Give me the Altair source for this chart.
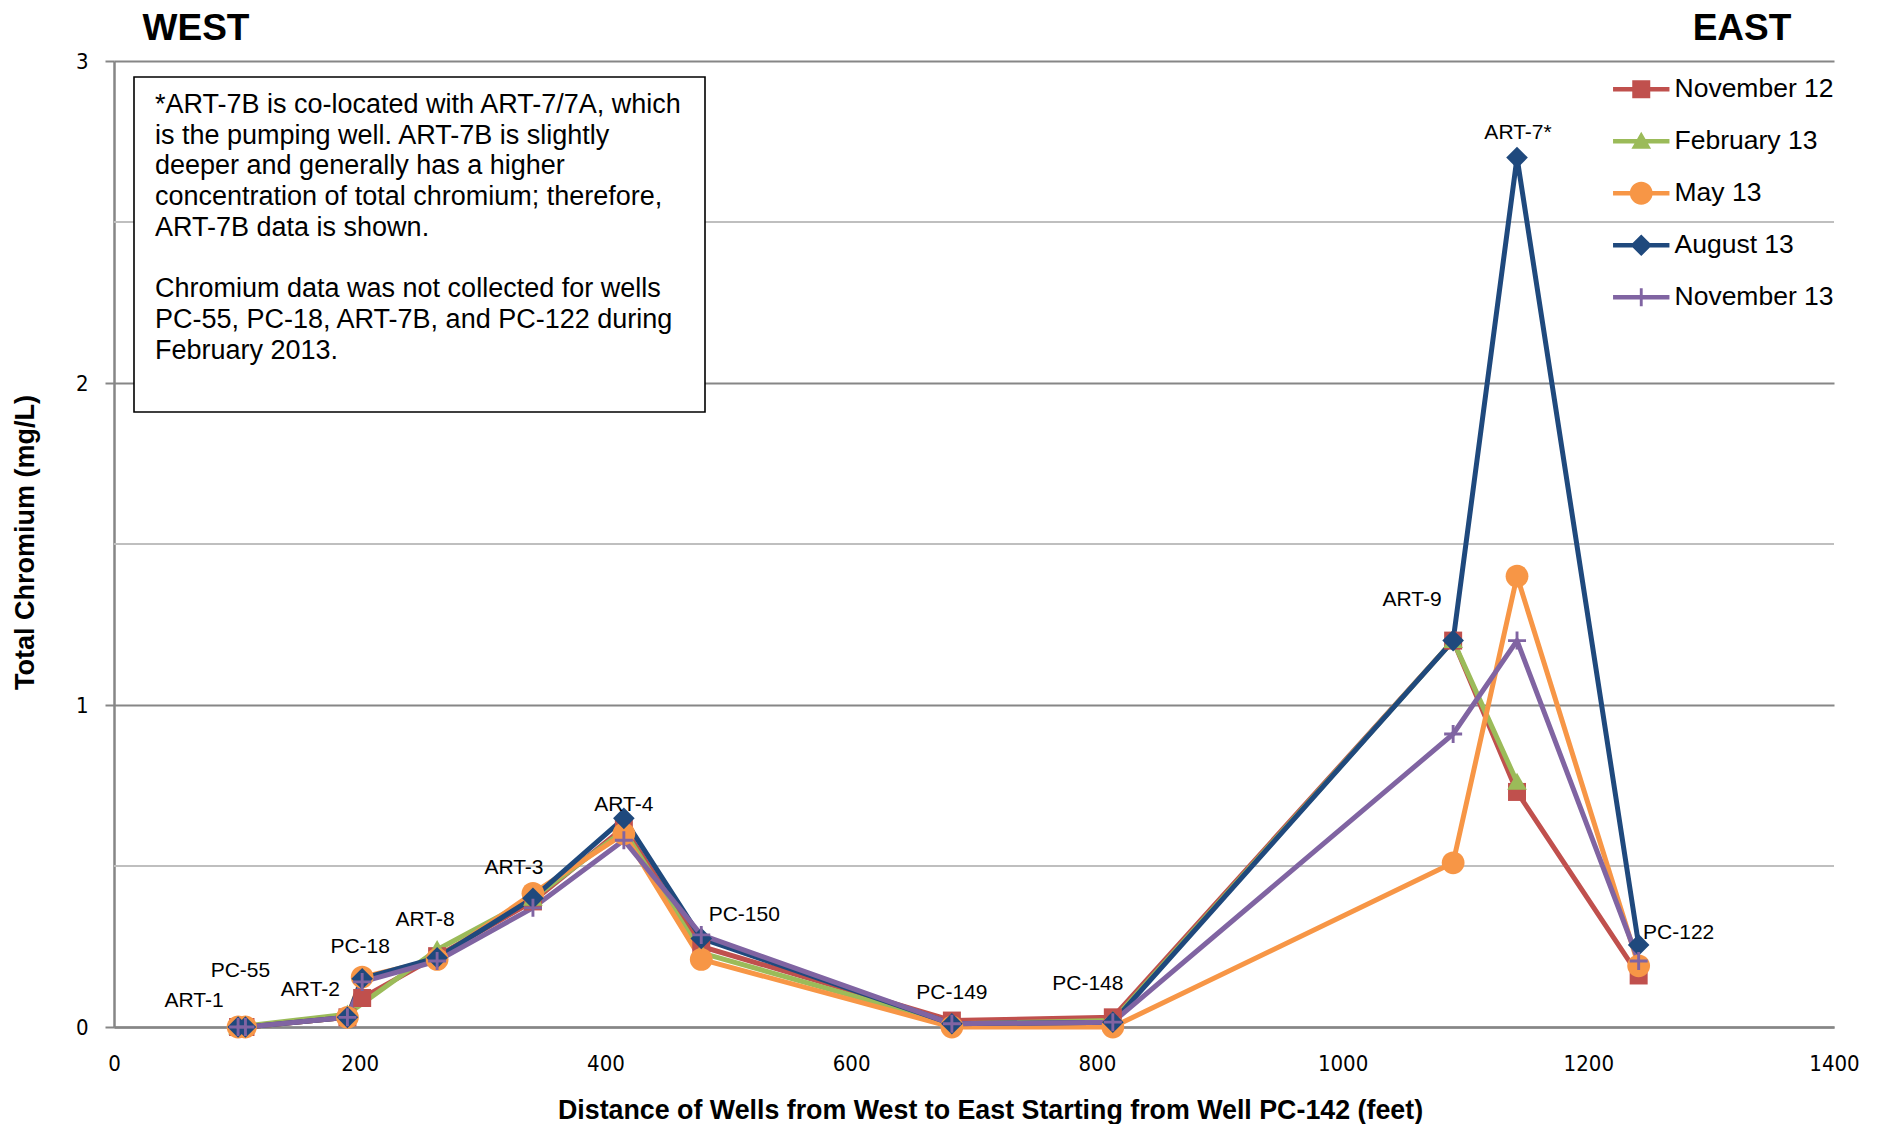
import altair as alt
import pandas as pd

# ---------------- data ----------------
SERIES = ["November 12", "February 13", "May 13", "August 13", "November 13"]
COLORS = ["#C0504D", "#9BBB59", "#F79646", "#1F497D", "#8064A2"]

WELLS = ["ART-1", "PC-55", "ART-2", "PC-18", "ART-8", "ART-3", "ART-4",
         "PC-150", "PC-149", "PC-148", "ART-9", "ART-7*", "PC-122"]
DISTANCE_FT = [101, 107, 190, 202, 263, 341, 415, 478, 682, 813, 1090, 1142, 1241]

NOV_12 = [0.0, 0.0, 0.03, 0.09, 0.22, 0.39, 0.62, 0.25, 0.02, 0.03, 1.20, 0.73, 0.16]
FEB_13 = [0.0, None, 0.04, None, 0.24, 0.40, 0.61, 0.23, 0.01, 0.02, 1.20, 0.76, None]
MAY_13 = [0.0, 0.0, 0.03, 0.155, 0.21, 0.415, 0.60, 0.21, 0.0, 0.0, 0.51, 1.40, 0.19]
AUG_13 = [0.0, 0.0, 0.03, 0.15, 0.215, 0.40, 0.648, 0.275, 0.01, 0.015, 1.20, 2.70, 0.255]
NOV_13 = [0.0, 0.0, 0.03, 0.14, 0.205, 0.37, 0.58, 0.286, 0.01, 0.015, 0.91, 1.20, 0.205]

X_TICKS = [0, 200, 400, 600, 800, 1000, 1200, 1400]
Y_TICKS = [0, 1, 2, 3]
Y_MINOR = [0.5, 1.5, 2.5]

NOTE_PARA_1 = [
    "*ART-7B is co-located with ART-7/7A, which",
    "is the pumping well. ART-7B is slightly",
    "deeper and generally has a higher",
    "concentration of total chromium; therefore,",
    "ART-7B data is shown.",
]
NOTE_PARA_2 = [
    "Chromium data was not collected for wells",
    "PC-55, PC-18, ART-7B, and PC-122 during",
    "February 2013.",
]
WEST_TEXT = "WEST"
EAST_TEXT = "EAST"
X_TITLE = "Distance of Wells from West to East Starting from Well PC-142 (feet)"
Y_TITLE = "Total Chromium (mg/L)"

# ---------------- styling (not data) ----------------
W, H = 1720, 966
FONT = "Liberation Sans"
NARROW = "Liberation Sans Narrow, DejaVu Sans Condensed, Liberation Sans"
NOTE_LH = 30.7
# label pixel offsets from each well's highest point
LABEL_DX = [-44, -5, -37, -2, -12, -19, 0, 43, 0, -25, -41, 1, 40]
LABEL_DY = [-26, -56, -24, -30, -30, -25, -13, -20, -28, -33, -41, -25, -12]

PLOT_PATHS = [
    "M-0.75,-0.75H0.75V0.75H-0.75Z",
    "M0,-0.8L0.82,0.62L-0.82,0.62Z",
    "M-0.95,0A0.95,0.95 0 1,1 0.95,0A0.95,0.95 0 1,1 -0.95,0Z",
    "M0,-0.9L0.9,0L0,0.9L-0.9,0Z",
    "M-0.75,-0.12H0.75V0.12H-0.75Z M-0.12,-0.75H0.12V0.75H-0.12Z",
]
LINE_SEG = "M-2.35,-0.19H2.35V0.19H-2.35Z "
LEGEND_PATHS = [LINE_SEG + p for p in PLOT_PATHS]

# ---------------- tables ----------------
rows = []
for s, vals in zip(SERIES, [NOV_12, FEB_13, MAY_13, AUG_13, NOV_13]):
    for w, d, v in zip(WELLS, DISTANCE_FT, vals):
        if v is not None:
            rows.append({"series": s, "well": w, "distance": d, "value": v})
df = pd.DataFrame(rows)

lab = df.groupby(["well", "distance"], as_index=False)["value"].max()
minor_df = pd.DataFrame({"y": Y_MINOR})

x_scale = alt.Scale(domain=[0, 1400], nice=False, zero=True)
y_scale = alt.Scale(domain=[0, 3], nice=False)
color_scale = alt.Scale(domain=SERIES, range=COLORS)

x_axis = alt.Axis(
    values=X_TICKS, format="d", grid=False, ticks=False, tickSize=0,
    labelFlush=False, labelOverlap=False,
    domainColor="#868686", domainWidth=2.5,
    labelFont=NARROW, labelFontSize=22, labelColor="black",
    labelPadding=36, labelBaseline="middle",
    title=X_TITLE, titleFont=FONT, titleFontSize=26.8, titleFontWeight="bold",
    titleColor="black", titleX=876, titleY=91, titleAlign="center",
    titleBaseline="alphabetic", titleAnchor="start",
)
y_axis = alt.Axis(
    values=Y_TICKS, format="d", grid=True, gridColor="#868686", gridWidth=2,
    labelFlush=False, labelOverlap=False,
    domainColor="#868686", domainWidth=2.5,
    ticks=True, tickSize=9, tickColor="#868686", tickWidth=2,
    labelFont=NARROW, labelFontSize=22, labelColor="black", labelPadding=17,
    title=Y_TITLE, titleFont=FONT, titleFontSize=27, titleFontWeight="bold",
    titleColor="black", titleAngle=270, titleX=-81, titleY=481,
    titleAlign="center", titleBaseline="alphabetic", titleAnchor="start",
)

base_x = alt.X("distance:Q", scale=x_scale, axis=x_axis)
base_y = alt.Y("value:Q", scale=y_scale, axis=y_axis)

minor = alt.Chart(minor_df).mark_rule(color="#BFBFBF", strokeWidth=2).encode(
    y=alt.Y("y:Q", scale=y_scale, axis=y_axis)
)

one = alt.Chart(minor_df).transform_filter("datum.y == 0.5")

note_box = one.mark_rect(fill="white", stroke="black", strokeWidth=1.6).encode(
    x=alt.value(20), x2=alt.value(591), y=alt.value(16), y2=alt.value(351)
)

note_style = dict(align="left", baseline="alphabetic", font=FONT, fontSize=27,
                  lineHeight=NOTE_LH, color="black")
note_text_1 = one.mark_text(**note_style).encode(
    x=alt.value(41), y=alt.value(52), text=alt.value(NOTE_PARA_1))
note_text_2 = one.mark_text(**note_style).encode(
    x=alt.value(41), y=alt.value(52 + 6 * NOTE_LH), text=alt.value(NOTE_PARA_2))

lines = alt.Chart(df).mark_line(strokeWidth=5, strokeJoin="round").encode(
    x=base_x, y=base_y,
    color=alt.Color("series:N", scale=color_scale, legend=None),
    detail="series:N",
)

points = alt.Chart(df).mark_point(filled=True, opacity=1, size=576, strokeWidth=0).encode(
    x=base_x, y=base_y,
    color=alt.Color("series:N", scale=color_scale, legend=None),
    shape=alt.Shape("series:N", scale=alt.Scale(domain=SERIES, range=PLOT_PATHS), legend=None),
)

label_layers = []
for w, dx, dy in zip(WELLS, LABEL_DX, LABEL_DY):
    label_layers.append(
        alt.Chart(lab).transform_filter(alt.datum.well == w).mark_text(
            font=FONT, fontSize=21, color="black", dx=dx, dy=dy,
            align="center", baseline="middle"
        ).encode(x=base_x, y=base_y, text="well:N")
    )

sides = one.mark_text(
    font=FONT, fontSize=37, fontWeight="bold", color="black",
    align="center", baseline="alphabetic"
)
west = sides.encode(x=alt.value(82), y=alt.value(-21), text=alt.value(WEST_TEXT))
east = sides.encode(x=alt.value(1628), y=alt.value(-21), text=alt.value(EAST_TEXT))

leg_props = dict(
    title=None, orient="none", legendX=1514, legendY=15, padding=0,
    direction="vertical", rowPadding=25, labelOffset=20,
    labelFont=FONT, labelFontSize=26.5, labelColor="black", labelLimit=0,
    symbolSize=576, symbolStrokeWidth=0,
)
legend_layer = alt.Chart(df).transform_filter("false").mark_point(
    filled=True, opacity=1, size=576, strokeWidth=0
).encode(
    x=base_x, y=base_y,
    color=alt.Color("series:N", scale=color_scale, legend=alt.Legend(**leg_props)),
    shape=alt.Shape("series:N", scale=alt.Scale(domain=SERIES, range=LEGEND_PATHS),
                    legend=alt.Legend(**leg_props)),
)

chart = alt.layer(
    minor, note_box, note_text_1, note_text_2, lines, points, *label_layers,
    west, east, legend_layer
).resolve_scale(shape="independent").resolve_legend(
    color="independent", shape="independent"
).properties(
    width=W, height=H,
    autosize=alt.AutoSizeParams(type="none"),
    padding={"left": 106, "top": 53, "right": 30, "bottom": 97},
    background="white",
).configure_view(stroke=None)

chart.save("out.html", embed_options={"renderer": "svg", "actions": False})
